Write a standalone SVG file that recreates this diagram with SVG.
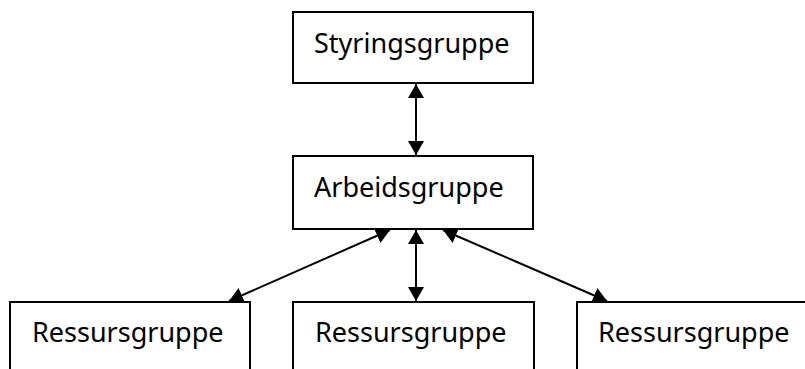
<svg xmlns="http://www.w3.org/2000/svg" width="805" height="369" viewBox="0 0 805 369">
<style>
.box{fill:#fff;stroke:#000;stroke-width:2}
.lbl{font-family:"Noto Sans","DejaVu Sans",sans-serif;font-size:27px;fill:#000}
.con{stroke:#000;stroke-width:2;fill:none;marker-start:url(#ah);marker-end:url(#ah)}
</style>
<defs>
<marker id="ah" markerUnits="userSpaceOnUse" viewBox="0 0 14 16" refX="14" refY="8" markerWidth="14" markerHeight="16" orient="auto-start-reverse">
<path d="M0,0 L14,8 L0,16 Z" fill="#000"/>
</marker>
</defs>
<rect width="805" height="369" fill="#fff"/>
<g id="styringsgruppe"><rect class="box" x="293" y="12" width="240" height="71"/><text class="lbl" x="314" y="53">Styringsgruppe</text></g>
<g id="arbeidsgruppe"><rect class="box" x="293" y="156" width="240" height="73"/><text class="lbl" x="314" y="197">Arbeidsgruppe</text></g>
<g id="ressursgruppe1"><rect class="box" x="10" y="302" width="240" height="100"/><text class="lbl" x="32" y="342">Ressursgruppe</text></g>
<g id="ressursgruppe2"><rect class="box" x="293" y="302" width="241" height="100"/><text class="lbl" x="315" y="342">Ressursgruppe</text></g>
<g id="ressursgruppe3"><rect class="box" x="577" y="302" width="240" height="100"/><text class="lbl" x="598" y="342">Ressursgruppe</text></g>
<g id="connectors">
<line class="con" x1="416" y1="84" x2="416" y2="155"/>
<line class="con" x1="416" y1="230" x2="416" y2="301"/>
<line class="con" x1="390" y1="230" x2="229" y2="301"/>
<line class="con" x1="443" y1="230" x2="607" y2="301"/>
</g>
</svg>
